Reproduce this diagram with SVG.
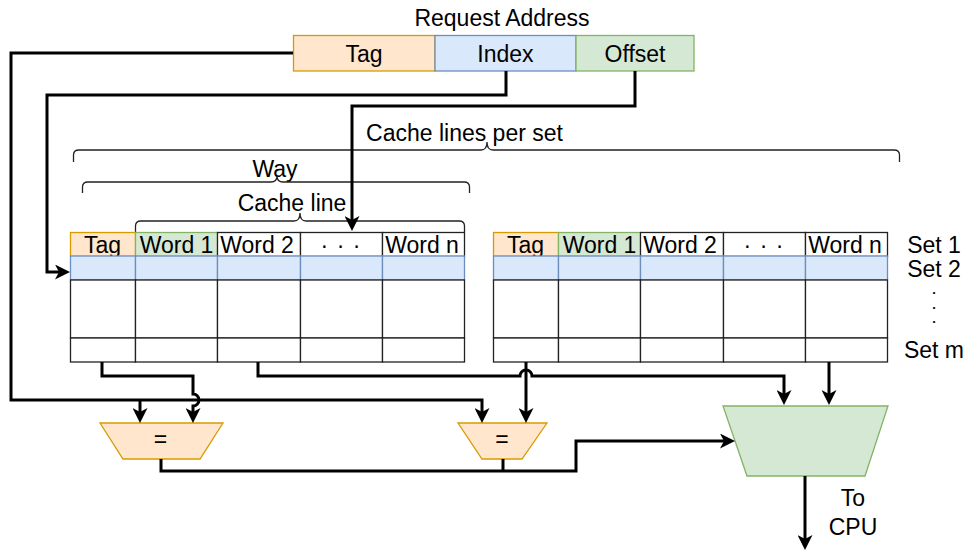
<svg xmlns="http://www.w3.org/2000/svg" width="967" height="552" viewBox="0 0 967 552">
  <style>
    text { font-family: "Liberation Sans", Arial, sans-serif; font-size: 23px; fill: #000; text-anchor: middle; }
    .dot { font-size: 13px; font-weight: bold; }
    .orange { fill: #ffe6cc; stroke: #d79b00; stroke-width: 1.3; }
    .blue { fill: #dae8fc; stroke: #6c8ebf; stroke-width: 1.3; }
    .green { fill: #d5e8d4; stroke: #82b366; stroke-width: 1.3; }
    .cell { fill: #fff; stroke: #222; stroke-width: 1.3; }
    .brace { fill: none; stroke: #222; stroke-width: 1.3; }
    .wire { fill: none; stroke: #000; stroke-width: 3; }
    .arrow { marker-end: url(#head); }
  </style>
  <defs>
    <marker id="head" viewBox="0 0 15 15" refX="4" refY="7.5" markerWidth="15" markerHeight="15" orient="auto" markerUnits="userSpaceOnUse">
      <path d="M0,0 L15,7.5 L0,15 L4,7.5 Z" fill="#000"/>
    </marker>
  </defs>

  <rect width="967" height="552" fill="#fff"/>

  <!-- request address fields -->
  <g id="request-address">
    <text x="502" y="26">Request Address</text>
    <rect class="orange" x="293.5" y="35.5" width="141.5" height="35.5"/>
    <rect class="blue" x="435" y="35.5" width="141" height="35.5"/>
    <rect class="green" x="576" y="35.5" width="118" height="35.5"/>
    <text x="364" y="62">Tag</text>
    <text x="505.5" y="62">Index</text>
    <text x="635" y="62">Offset</text>
  </g>

  <!-- braces -->
  <g id="brace-cache-lines-per-set">
    <text x="464.5" y="141">Cache lines per set</text>
    <path class="brace" d="M73.5,162 L73.5,155 Q73.5,150 79,150 L481,150 Q487,150 487,142 Q487,150 493,150 L894,150 Q899.5,150 899.5,155 L899.5,162"/>
  </g>
  <g id="brace-way">
    <text x="275" y="177">Way</text>
    <path class="brace" d="M82.5,193 L82.5,187 Q82.5,182 88,182 L271,182 Q277,182 277,176 Q277,182 283,182 L464,182 Q469.5,182 469.5,187 L469.5,193"/>
  </g>
  <g id="brace-cache-line">
    <text x="292" y="211">Cache line</text>
    <path class="brace" d="M135.5,232 L135.5,226 Q135.5,221 141,221 L294,221 Q300,221 300,213 Q300,221 306,221 L459,221 Q464.5,221 464.5,226 L464.5,232"/>
  </g>

  <!-- way 1 -->
  <g id="way-1">
    <rect class="orange" x="70.5" y="232.5" width="65" height="24"/>
    <rect class="green" x="135.5" y="232.5" width="82" height="24"/>
    <rect class="cell" x="217.5" y="232.5" width="83" height="24"/>
    <rect class="cell" x="300.5" y="232.5" width="82" height="24"/>
    <rect class="cell" x="382.5" y="232.5" width="82" height="24"/>
    <text x="102.5" y="253">Tag</text>
    <text x="176.5" y="253">Word 1</text>
    <text x="257" y="253">Word 2</text>
    <text x="341" y="253" letter-spacing="1">· · ·</text>
    <text x="422" y="253">Word n</text>
    <rect class="blue" x="70.5" y="256" width="65" height="24"/>
    <rect class="blue" x="135.5" y="256" width="82" height="24"/>
    <rect class="blue" x="217.5" y="256" width="83" height="24"/>
    <rect class="blue" x="300.5" y="256" width="82" height="24"/>
    <rect class="blue" x="382.5" y="256" width="82" height="24"/>
    <rect class="cell" x="70.5" y="280" width="65" height="58"/>
    <rect class="cell" x="135.5" y="280" width="82" height="58"/>
    <rect class="cell" x="217.5" y="280" width="83" height="58"/>
    <rect class="cell" x="300.5" y="280" width="82" height="58"/>
    <rect class="cell" x="382.5" y="280" width="82" height="58"/>
    <rect class="cell" x="70.5" y="338" width="65" height="24"/>
    <rect class="cell" x="135.5" y="338" width="82" height="24"/>
    <rect class="cell" x="217.5" y="338" width="83" height="24"/>
    <rect class="cell" x="300.5" y="338" width="82" height="24"/>
    <rect class="cell" x="382.5" y="338" width="82" height="24"/>
  </g>

  <!-- way 2 -->
  <g id="way-2">
    <rect class="orange" x="493.5" y="232.5" width="65" height="24"/>
    <rect class="green" x="558.5" y="232.5" width="82" height="24"/>
    <rect class="cell" x="640.5" y="232.5" width="83" height="24"/>
    <rect class="cell" x="723.5" y="232.5" width="82" height="24"/>
    <rect class="cell" x="805.5" y="232.5" width="82" height="24"/>
    <text x="525.5" y="253">Tag</text>
    <text x="599.5" y="253">Word 1</text>
    <text x="680" y="253">Word 2</text>
    <text x="764" y="253" letter-spacing="1">· · ·</text>
    <text x="845" y="253">Word n</text>
    <rect class="blue" x="493.5" y="256" width="65" height="24"/>
    <rect class="blue" x="558.5" y="256" width="82" height="24"/>
    <rect class="blue" x="640.5" y="256" width="83" height="24"/>
    <rect class="blue" x="723.5" y="256" width="82" height="24"/>
    <rect class="blue" x="805.5" y="256" width="82" height="24"/>
    <rect class="cell" x="493.5" y="280" width="65" height="58"/>
    <rect class="cell" x="558.5" y="280" width="82" height="58"/>
    <rect class="cell" x="640.5" y="280" width="83" height="58"/>
    <rect class="cell" x="723.5" y="280" width="82" height="58"/>
    <rect class="cell" x="805.5" y="280" width="82" height="58"/>
    <rect class="cell" x="493.5" y="338" width="65" height="24"/>
    <rect class="cell" x="558.5" y="338" width="82" height="24"/>
    <rect class="cell" x="640.5" y="338" width="83" height="24"/>
    <rect class="cell" x="723.5" y="338" width="82" height="24"/>
    <rect class="cell" x="805.5" y="338" width="82" height="24"/>
  </g>

  <!-- set labels -->
  <g id="set-labels">
    <text x="934" y="253">Set 1</text>
    <text x="934" y="277">Set 2</text>
    <text class="dot" x="934" y="294">.</text>
    <text class="dot" x="934" y="308.5">.</text>
    <text class="dot" x="934" y="323">.</text>
    <text x="934" y="358">Set m</text>
  </g>

  <!-- tag comparators -->
  <g id="comparator-1">
    <polygon class="orange" points="100,423 223,423 200,459 123,459"/>
    <text x="160.5" y="447">=</text>
  </g>
  <g id="comparator-2">
    <polygon class="orange" points="458,423 547,423 522,459 482,459"/>
    <text x="502" y="447">=</text>
  </g>

  <!-- word multiplexer -->
  <g id="multiplexer">
    <polygon class="green" points="723,406 888,406 865,476 747,476"/>
  </g>

  <g id="cpu-label">
    <text x="853" y="506">To</text>
    <text x="853" y="535">CPU</text>
  </g>

  <!-- wiring -->
  <g id="connectors">
    <path class="wire arrow" d="M293,53 H11 V400 H482 V412"/>
    <path class="wire arrow" d="M140,400 V412"/>
    <path class="wire arrow" d="M102,362 V376 H193 V394 A6,6 0 0 1 193,406 V412"/>
    <path class="wire arrow" d="M258,362 V376 H520 A6,6 0 0 1 532,376 H784 V394"/>
    <path class="wire arrow" d="M526,362 V412"/>
    <path class="wire arrow" d="M829,362 V394"/>
    <path class="wire arrow" d="M506,71 V95 H47 V272 H59"/>
    <path class="wire arrow" d="M635,71 V106 H352 V220"/>
    <path class="wire arrow" d="M161,459 V471 H576 V441 H724"/>
    <path class="wire" d="M503,459 V471"/>
    <path class="wire arrow" d="M805,476 V539"/>
  </g>
</svg>
